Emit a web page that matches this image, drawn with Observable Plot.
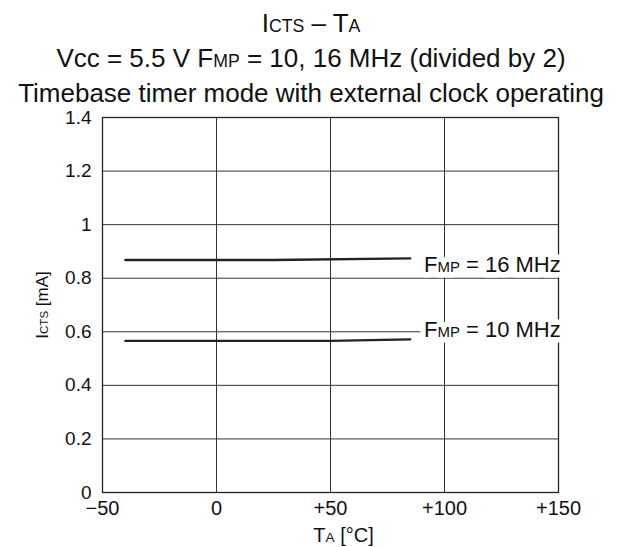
<!DOCTYPE html>
<html>
<head>
<meta charset="utf-8">
<script src="https://cdn.jsdelivr.net/npm/d3@7"></script>
<script src="https://cdn.jsdelivr.net/npm/@observablehq/plot@0.6"></script>
<style>
  body { margin: 0; background: #fff; font-family: "Liberation Sans", Arial, sans-serif; }
  #title { height: 110px; box-sizing: border-box; padding-top: 7px; text-align: center; color: #111; font-size: 26px; line-height: 32.2px; white-space: nowrap; }
  .s { font-size: 68%; }
</style>
</head>
<body>
<div id="title">
  <div>I<span class="s">CTS</span> – T<span class="s">A</span></div>
  <div>Vcc = 5.5 V F<span class="s">MP</span> = 10, 16 MHz (divided by 2)</div>
  <div>Timebase timer mode with external clock operating</div>
</div>
<div id="chart"></div>
<script>
// Data
const temps16 = [-40, 25, 85];
const icts16  = [0.868, 0.868, 0.874];
const temps10 = [-40, 50, 85];
const icts10  = [0.566, 0.566, 0.572];

const xTicks = [-50, 0, 50, 100, 150];
const xTickLabels = ["−50", "0", "+50", "+100", "+150"];
const yTicks = [0, 0.2, 0.4, 0.6, 0.8, 1, 1.2, 1.4];
const yTickLabels = ["0", "0.2", "0.4", "0.6", "0.8", "1", "1.2", "1.4"];

const seriesLabels = ["F{MP} = 16 MHz", "F{MP} = 10 MHz"];
const labelX = [91, 91];
const labelY = [0.851, 0.605];
const xTitle = "T{A} [°C]";
const yTitle = "I{CTS} [mA]";

const data = [
  ...temps16.map((t, i) => ({series: "16", t, v: icts16[i]})),
  ...temps10.map((t, i) => ({series: "10", t, v: icts10[i]}))
];
const labels = seriesLabels.map((s, i) => ({text: s, x: labelX[i], y: labelY[i]}));

const chart = Plot.plot({
  width: 622,
  height: 437,
  marginTop: 7,
  marginBottom: 55,
  marginLeft: 102,
  marginRight: 64,
  style: {fontSize: "20px", fontFamily: "'Liberation Sans', Arial, sans-serif", color: "#111", background: "transparent", overflow: "visible"},
  x: {domain: [-50, 150]},
  y: {domain: [0, 1.4]},
  marks: [
    Plot.gridX([0, 50, 100], {stroke: "#333", strokeOpacity: 1, strokeWidth: 1}),
    Plot.gridY([0.2, 0.4, 0.6, 0.8, 1, 1.2], {stroke: "#333", strokeOpacity: 1, strokeWidth: 1}),
    Plot.frame({stroke: "#222", strokeWidth: 1.3}),
    Plot.axisX(xTicks, {tickSize: 0, tickPadding: 8, tickFormat: (d) => xTickLabels[xTicks.indexOf(d)], label: null, fontSize: 20}),
    Plot.axisY(yTicks, {tickSize: 0, tickPadding: 11, tickFormat: (d) => yTickLabels[yTicks.indexOf(d)], label: null, fontSize: 19}),
    Plot.line(data, {x: "t", y: "v", z: "series", stroke: "#222", strokeWidth: 2.3}),
    // white backing under the series labels (so grid lines stop at the text)
    Plot.text(labels, {x: "x", y: "y", text: "text", textAnchor: "start", fontSize: 22, fill: "white", stroke: "white", strokeWidth: 11, className: "sublabel halo", ariaHidden: true}),
    Plot.text(labels, {x: "x", y: "y", text: "text", textAnchor: "start", fontSize: 22, fill: "#111", className: "sublabel"}),
    Plot.text([xTitle], {x: [50], frameAnchor: "bottom", dx: 13, dy: 49, text: (d) => d, fontSize: 20, fill: "#111", className: "sublabel"}),
    Plot.text([yTitle], {x: [-50], y: [0.7], dx: -60, rotate: -90, text: (d) => d, fontSize: 17, fill: "#111", className: "sublabel"})
  ]
});
document.getElementById("chart").appendChild(chart);

// turn {..} parts into smaller tspans (small-cap style subscripts)
d3.select(chart).selectAll("g.sublabel text").each(function() {
  const el = d3.select(this);
  const txt = el.text();
  el.text(null);
  const parts = txt.split(/(\{[^}]*\})/).filter(p => p.length);
  for (const p of parts) {
    if (p.startsWith("{")) el.append("tspan").attr("font-size", "68%").text(p.slice(1, -1));
    else el.append("tspan").text(p);
  }
});
d3.select(chart).selectAll("g.halo text")
  .attr("stroke", "white").attr("stroke-width", 11)
  .attr("stroke-linejoin", "round").attr("fill", "white");
</script>
</body>
</html>
